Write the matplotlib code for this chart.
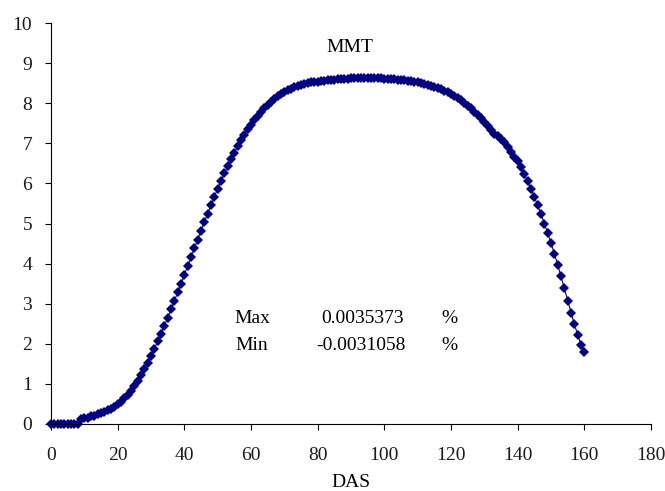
import matplotlib.pyplot as plt
import numpy as np

plt.rcParams['font.family'] = ['Liberation Serif', 'DejaVu Serif']

# DAS 0..160, MMT values
das = list(range(0, 161))
mmt = [
    0.00, 0.00, 0.00, 0.00, 0.00, 0.00, 0.00, 0.00, 0.00, 0.12,   # 0-9
    0.14, 0.16, 0.19, 0.21, 0.24, 0.27, 0.30, 0.34, 0.38, 0.43,   # 10-19
    0.49, 0.56, 0.64, 0.73, 0.83, 0.95, 1.08, 1.22, 1.37, 1.53,   # 20-29
    1.70, 1.88, 2.06, 2.25, 2.45, 2.65, 2.86, 3.07, 3.28, 3.50,   # 30-39
    3.72, 3.94, 4.16, 4.38, 4.60, 4.82, 5.04, 5.25, 5.46, 5.67,   # 40-49
    5.87, 6.06, 6.25, 6.43, 6.60, 6.77, 6.93, 7.08, 7.22, 7.35,   # 50-59
    7.47, 7.58, 7.69, 7.79, 7.88, 7.96, 8.04, 8.11, 8.17, 8.23,   # 60-69
    8.28, 8.32, 8.36, 8.40, 8.43, 8.46, 8.48, 8.50, 8.52, 8.53,   # 70-79
    8.54, 8.55, 8.56, 8.57, 8.58, 8.59, 8.60, 8.60, 8.61, 8.61,   # 80-89
    8.62, 8.62, 8.62, 8.63, 8.63, 8.63, 8.63, 8.62, 8.62, 8.62,   # 90-99
    8.61, 8.61, 8.60, 8.60, 8.59, 8.58, 8.57, 8.56, 8.55, 8.53,   # 100-109
    8.52, 8.50, 8.48, 8.46, 8.44, 8.41, 8.38, 8.35, 8.31, 8.27,   # 110-119
    8.23, 8.18, 8.13, 8.07, 8.01, 7.94, 7.87, 7.79, 7.71, 7.62,   # 120-129
    7.53, 7.43, 7.33, 7.24, 7.18, 7.12, 7.03, 6.92, 6.79, 6.65,   # 130-139
    6.55, 6.40, 6.23, 6.05, 5.86, 5.66, 5.45, 5.23, 5.00, 4.76,   # 140-149
    4.51, 4.25, 3.97, 3.68, 3.38, 3.08, 2.78, 2.49, 2.22, 1.98,   # 150-159
    1.80,                                                         # 160
]

xticks = np.arange(0, 181, 20)
yticks = np.arange(0, 11, 1)

fig = plt.figure(figsize=(6.65, 4.91), dpi=100)
ax = fig.add_axes([0.0767, 0.1365, 0.9023, 0.8165])

ax.plot(das, mmt, color='#000080', linewidth=0.8, marker='D',
        markersize=5.2, markeredgewidth=0, clip_on=False)

ax.set_xlim(0, 180)
ax.set_ylim(0, 10)
ax.set_xticks(xticks)
ax.set_yticks(yticks)
ax.spines['top'].set_visible(False)
ax.spines['right'].set_visible(False)
ax.tick_params(direction='out', length=4.5, labelsize=14, labelcolor='#1a1a1a')
ax.tick_params(axis='x', pad=12)
ax.tick_params(axis='y', pad=9)
ax.set_xlabel("DAS", fontsize=14, labelpad=7)

ax.text(89.7, 9.38, "MMT", ha='center', va='center', fontsize=14)
ax.text(60.3, 2.64, "Max", ha='center', va='center', fontsize=14)
ax.text(93.6, 2.64, "0.0035373", ha='center', va='center', fontsize=14)
ax.text(119.4, 2.64, "%", ha='center', va='center', fontsize=14)
ax.text(60.3, 1.95, "Min", ha='center', va='center', fontsize=14)
ax.text(93.0, 1.95, "-0.0031058", ha='center', va='center', fontsize=14)
ax.text(119.4, 1.95, "%", ha='center', va='center', fontsize=14)

plt.savefig("out.png", dpi=100)
